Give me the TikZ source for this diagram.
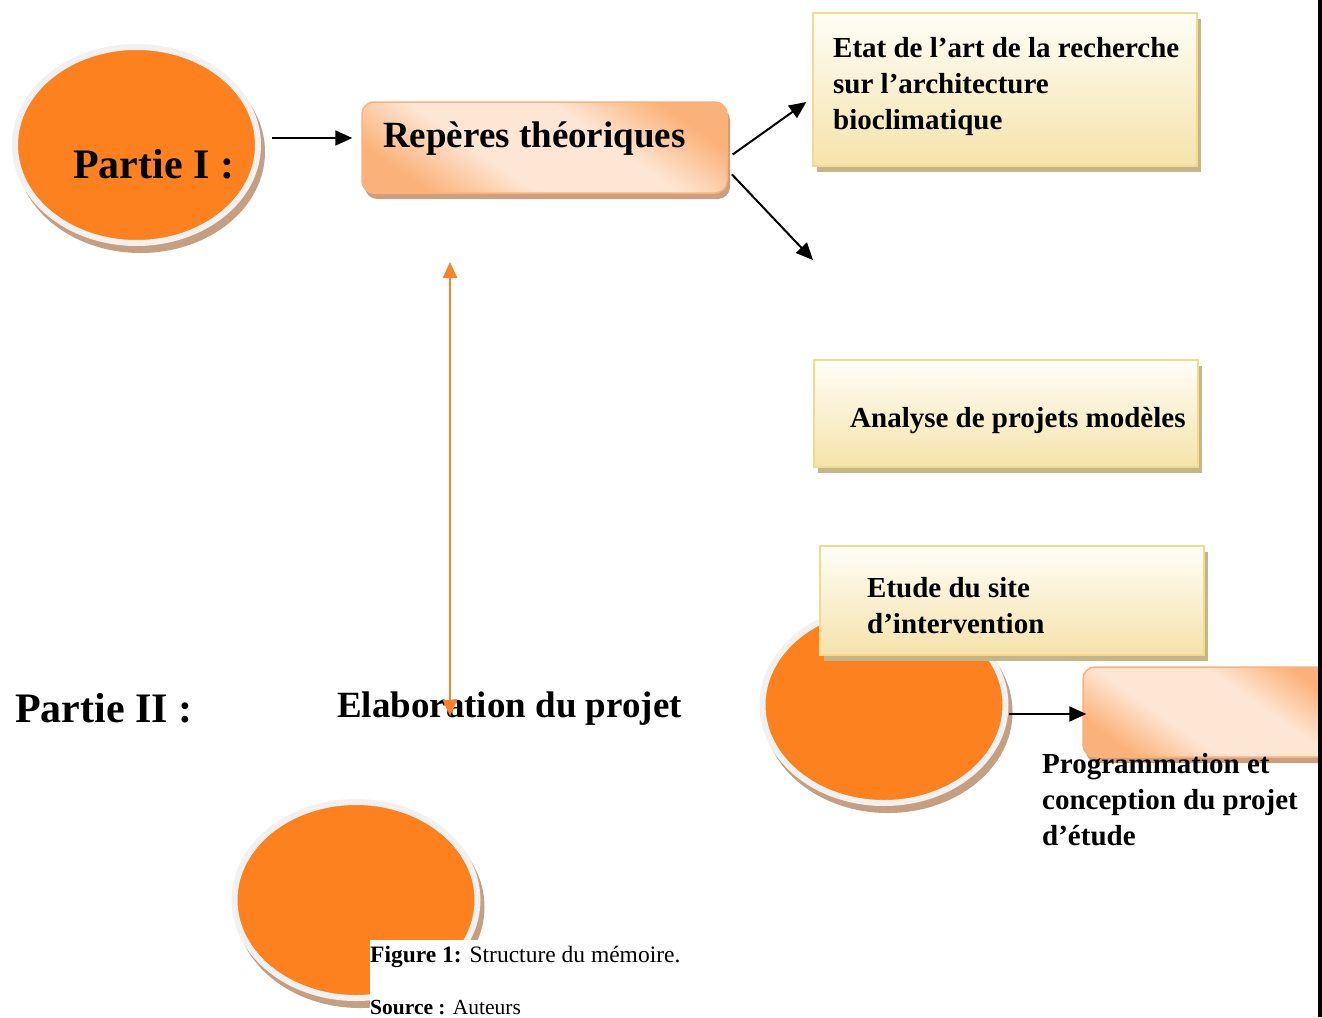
\documentclass[tikz,border=0pt]{standalone}
\usepackage{fontspec}
\setmainfont{Liberation Serif}
\usetikzlibrary{shapes.geometric,arrows.meta}
\definecolor{fillorange}{RGB}{253,130,31}
\definecolor{ringgrey}{RGB}{241,241,241}
\definecolor{discshade}{RGB}{198,158,128}
\definecolor{peachdark}{RGB}{251,178,122}
\definecolor{peachlight}{RGB}{254,230,212}
\definecolor{peachline}{RGB}{250,178,120}
\definecolor{peachshade}{RGB}{204,160,126}
\definecolor{creamtop}{RGB}{255,254,248}
\definecolor{creambottom}{RGB}{245,227,170}
\definecolor{creamline}{RGB}{243,218,140}
\definecolor{creamshade}{RGB}{196,182,136}
\definecolor{arrorange}{RGB}{250,130,40}
\pgfdeclareverticalshading{peachshading}{100bp}{color(0bp)=(peachdark); color(25bp)=(peachdark);
  color(40bp)=(peachlight); color(60bp)=(peachlight); color(75bp)=(peachdark); color(100bp)=(peachdark)}

\begin{document}
\begin{tikzpicture}[
 x=1pt, y=-1pt,
 >={Triangle[length=16pt,width=14pt]},
 disc/.style={ellipse,draw=ringgrey,fill=fillorange,line width=6pt,inner sep=0pt,
   minimum width=243pt,minimum height=196pt,
   preaction={draw=discshade,fill=discshade,line width=6pt,transform canvas={shift={(4pt,-7pt)}}}},
 peach/.style={draw=peachline,line width=1.5pt,rounded corners=12pt,
   minimum width=365pt,minimum height=91pt,
   shading=peachshading,shading angle=-35,
   preaction={fill=peachshade,transform canvas={shift={(3pt,-6pt)}}}},
 cream/.style={draw=creamline,line width=2pt,minimum width=384pt,
   top color=creamtop,bottom color=creambottom,
   preaction={fill=creamshade,transform canvas={shift={(4pt,-6pt)}}}},
 big/.style={font=\fontsize{42}{50}\selectfont\bfseries,inner sep=0pt,anchor=base west},
 mid/.style={font=\fontsize{37}{44}\selectfont\bfseries,inner sep=0pt,anchor=base west},
 boxtxt/.style={font=\fontsize{29}{36}\selectfont\bfseries,inner sep=0pt,align=left,anchor=north west},
 arr/.style={->,line width=2pt,>={Triangle[length=17pt,width=15pt]}},
 orarr/.style={<->,draw=arrorange,line width=2.5pt}
]
\clip[use as bounding box] (0,0) rectangle (1322,1017);
\fill[white] (0,0) rectangle (1322,1017);

% discs
\node (disc1) [disc] at (136.5,145) {};
\node (disc2) [disc] at (884,705) {};
\node (disc3) [disc] at (356,900) {};

% boxes
\node (repbox) [peach] at (544.5,147.5) {};
\node (progbox) [peach,minimum width=260pt,minimum height=90pt] at (1213,712) {};
\node (etatbox) [cream,minimum height=153pt] at (1005,89) {};
\node (analbox) [cream,minimum height=107pt] at (1006,413.5) {};
\node (sitebox) [cream,minimum height=109pt] at (1012,600.5) {};

% texts
\node (part1) [big] at (73,178) {Partie I :};
\node (part2) [big] at (15,722) {Partie II :};
\node (reptxt) [mid] at (383,147) {Repères théoriques};
\node (elab) [mid] at (337,717) {Elaboration du projet};
\node (etattxt) [boxtxt] at (833,31.8) {\strut Etat de l’art de la recherche\\sur l’architecture\\bioclimatique};
\node (analtxt) [boxtxt,anchor=base west] at (850,427) {Analyse de projets modèles};
\node (sitetxt) [boxtxt] at (867,571.8) {\strut Etude du site\\d’intervention};
\node (progtxt) [boxtxt] at (1042,747.8) {\strut Programmation et\\conception du projet\\d’étude};

% arrows
\coordinate (loose) at (813,260);
\coordinate (ortop) at (450,262);
\coordinate (orbot) at (450,716);
\draw[arr,shorten <=11pt,shorten >=9pt] (disc1.east |- 0,138) -- (repbox.west |- 0,138);
\draw[arr,shorten <=6pt,shorten >=7pt] (repbox.east |- 0,158) -- (etatbox.west |- 0,98);
\draw[arr,shorten <=6pt] (repbox.east |- 0,170) -- (loose);
\draw[arr,shorten >=-4pt] (disc2.east |- 0,714) -- (progbox.west |- 0,714);
\draw[orarr] (ortop) -- (orbot);

% caption
\node (caption) [fill=white,inner xsep=0pt,inner ysep=3pt,anchor=north west,align=left,
  font=\fontsize{23.5}{28}\selectfont] at (370,940)
  {\strut\textbf{Figure 1:} Structure du mémoire.\\[24pt]{\fontsize{21.5}{28}\selectfont\textbf{Source :} Auteurs}};

\fill (1318,0) rectangle (1322,1017);
\end{tikzpicture}
\end{document}
